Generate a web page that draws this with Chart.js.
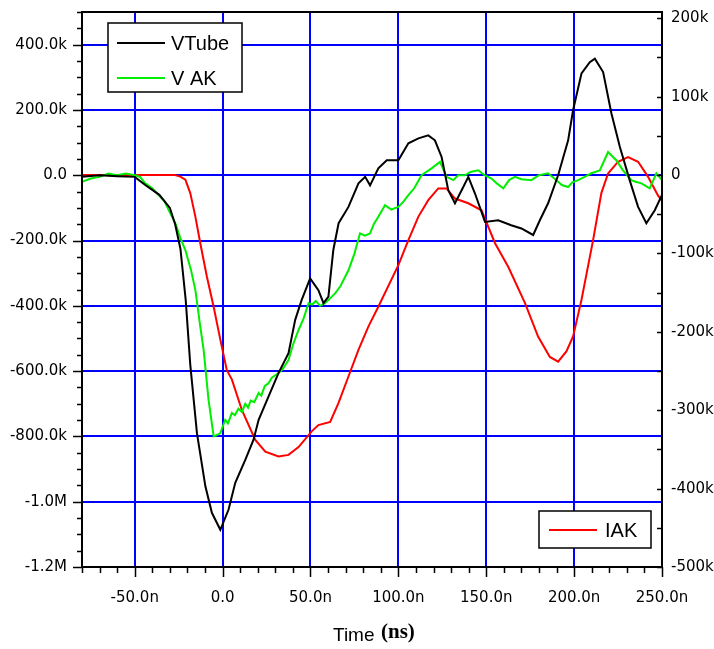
<!DOCTYPE html>
<html>
<head>
<meta charset="utf-8">
<script src="https://cdn.jsdelivr.net/npm/chart.js@4/dist/chart.umd.min.js"></script>
<style>
  html, body { margin: 0; padding: 0; background: #fff; }
  canvas { display: block; }
</style>
</head>
<body>
<canvas id="scope" width="714" height="649"></canvas>
<script>
// ---- data (time in ns, values in k) ----
const vtubeTime = [-80, -70, -60, -50, -44, -36, -30, -27, -24, -21, -18.4, -14.6, -9.8, -6.1, -1.3, 3.4, 7.2, 12.9, 17.6, 20.5, 26.1, 31.8, 37.5, 41.3, 45, 49.8, 54.5, 57.4, 60.2, 63, 66, 71.6, 77.3, 81.1, 83.9, 88.6, 93.4, 100, 105.7, 111.4, 117, 120.8, 124.6, 128.4, 132.2, 136, 139.8, 143.6, 149.3, 156.8, 164.2, 170, 176.7, 180.5, 185.2, 190.9, 196.6, 199.4, 204.2, 208.9, 211.8, 216.5, 221.2, 226, 231.6, 236.4, 241.1, 245.9, 250];
const vtubeVals = [-5, 0, -3, -5, -30, -60, -100, -150, -225, -382, -580, -790, -953, -1034, -1086, -1024, -942, -872, -810, -749, -678, -606, -545, -443, -382, -316, -352, -392, -372, -229, -147, -97, -25, -5, -31, 21, 46, 46, 98, 113, 122, 107, 56, -46, -86, -46, -5, -56, -143, -138, -153, -163, -183, -138, -86, 0, 107, 199, 312, 346, 357, 316, 190, 87, -15, -97, -147, -107, -60];

const vakTime = [-80, -75, -70, -65, -60, -55, -50, -47, -44, -40, -36.4, -33, -30.7, -26.9, -24, -21.2, -18, -15.5, -12.7, -10.8, -8, -5.1, -3, -1.3, 1.5, 3, 5.3, 7, 9, 11, 12.9, 14.5, 16, 18, 20.5, 22, 24, 26.1, 28, 31.8, 34, 37.5, 40, 43.2, 46, 48.9, 51, 53, 55.5, 58.3, 61, 64, 67, 71.6, 75, 78.2, 81, 83.9, 86, 88.6, 92.4, 96, 100, 103, 105.7, 109, 113.2, 118.9, 123.7, 127.4, 131.3, 134, 137.9, 141, 145.5, 149, 153, 156, 159.7, 163, 166.3, 170, 175.7, 180, 185.2, 190.9, 193, 196.6, 199, 202.3, 206, 209.8, 214.6, 219.3, 224, 227.8, 232.6, 235, 238.3, 243, 246.8, 250];
const vakVals = [-20, -10, -5, 5, 0, 5, 0, -5, -25, -40, -61, -80, -107, -147, -193, -229, -290, -352, -464, -535, -688, -800, -795, -790, -749, -760, -728, -735, -715, -725, -700, -712, -690, -695, -667, -675, -645, -637, -620, -606, -595, -566, -520, -474, -440, -392, -396, -385, -400, -392, -378, -362, -340, -291, -240, -178, -185, -178, -150, -127, -92, -105, -97, -80, -61, -40, 0, 21, 41, -5, -15, 0, 0, 10, 15, 0, -10, -25, -40, -15, -5, -12, -15, 0, 6, -20, -30, -36, -22, -15, -5, 6, 15, 71, 46, 15, -15, -20, -25, -40, 6, -15];

const iakTime = [-80, -27, -24, -21.2, -18.4, -15.5, -12.7, -8.9, -5.1, -1.3, 2.4, 5.3, 11, 18.6, 24.3, 31.8, 37.5, 43.2, 50.7, 54.5, 61.2, 65.9, 71.6, 77.3, 83, 88.6, 100, 105.7, 111.4, 117, 122.7, 127.4, 132.2, 139.8, 147.3, 155, 162.5, 172, 179.5, 186.2, 190.9, 195.6, 199.4, 204.2, 210.8, 215.5, 219.3, 225, 230.7, 236.4, 242, 247.7, 250];
const iakVals = [0, 0, -2, -6, -23, -53, -87, -130, -168, -210, -249, -261, -300, -338, -353, -359, -357, -347, -327, -319, -315, -291, -257, -223, -193, -168, -115, -83, -53, -32, -17, -17, -30, -36, -45, -87, -117, -163, -206, -232, -238, -225, -206, -159, -83, -23, 2, 17, 23, 17, -2, -26, -33];

const legendTop = ['VTube', 'V AK'];
const legendBottom = ['IAK'];

const BLUE = '#0000ff';

function pts(ts, vs) {
    return ts.map((t, i) => ({ x: t, y: vs[i] }));
}

function leftLabel(v) {
    if (v === 0) return '0.0';
    if (Math.abs(v) >= 1000) return (v / 1000).toFixed(1) + 'M';
    return v.toFixed(1) + 'k';
}

// no extra room for edge labels, the frame is fixed
function noPad(s) {
    s.paddingTop = 0;
    s.paddingBottom = 0;
    s.paddingLeft = 0;
    s.paddingRight = 0;
}

// frame, tick marks, legends and axis title
const decorPlugin = {
    id: 'decor',
    afterDraw(chart) {
        const ctx = chart.ctx;
        const a = chart.chartArea;
        const xs = chart.scales.x, yl = chart.scales.y, yr = chart.scales.y2;
        ctx.save();
        ctx.strokeStyle = '#000';
        ctx.lineWidth = 1.5;
        ctx.beginPath();
        for (let v = -80; v <= 250; v += 10) {
            const px = Math.round(xs.getPixelForValue(v)) + 0.5;
            const len = v % 50 === 0 ? 10 : 6;
            ctx.moveTo(px, a.bottom);
            ctx.lineTo(px, a.bottom + len);
        }
        for (let v = -1200; v <= 500; v += 50) {
            const py = Math.round(yl.getPixelForValue(v)) + 0.5;
            const len = v % 200 === 0 ? 9 : 5;
            ctx.moveTo(a.left - len, py);
            ctx.lineTo(a.left, py);
        }
        for (let v = -500; v <= 200; v += 50) {
            const py = Math.round(yr.getPixelForValue(v)) + 0.5;
            ctx.moveTo(a.right - 5, py);
            ctx.lineTo(a.right, py);
        }
        ctx.stroke();

        ctx.lineWidth = 2;
        ctx.strokeRect(a.left, a.top, a.right - a.left, a.bottom - a.top);

        // legend boxes
        const ds = chart.data.datasets;
        ctx.font = '20px "Liberation Sans", Arial, sans-serif';
        ctx.textBaseline = 'middle';
        ctx.fillStyle = '#fff';
        ctx.fillRect(108, 23, 134, 69);
        ctx.lineWidth = 1.5;
        ctx.strokeStyle = '#000';
        ctx.strokeRect(108, 23, 134, 69);
        legendTop.forEach((txt, i) => {
            const y = 43 + i * 35;
            ctx.strokeStyle = ds[i].borderColor;
            ctx.lineWidth = 2;
            ctx.beginPath();
            ctx.moveTo(117, y);
            ctx.lineTo(165, y);
            ctx.stroke();
            ctx.fillStyle = '#000';
            ctx.fillText(txt, 171, y + 1);
        });
        ctx.fillStyle = '#fff';
        ctx.fillRect(539, 511, 112, 37);
        ctx.strokeStyle = '#000';
        ctx.lineWidth = 1.5;
        ctx.strokeRect(539, 511, 112, 37);
        ctx.strokeStyle = ds[2].borderColor;
        ctx.lineWidth = 2;
        ctx.beginPath();
        ctx.moveTo(549, 530);
        ctx.lineTo(597, 530);
        ctx.stroke();
        ctx.fillStyle = '#000';
        ctx.fillText(legendBottom[0], 605, 531);

        // axis title
        ctx.textBaseline = 'alphabetic';
        ctx.font = '19px "Liberation Sans", Arial, sans-serif';
        ctx.fillText('Time', 333, 641);
        ctx.font = 'bold 21px "Liberation Serif", "Times New Roman", serif';
        ctx.fillText('(ns)', 381, 638);
        ctx.restore();
    }
};

const tickFont = { family: '"DejaVu Sans", sans-serif', size: 15 };

new Chart(document.getElementById('scope'), {
    type: 'scatter',
    data: {
        datasets: [
            { label: 'VTube', data: pts(vtubeTime, vtubeVals), yAxisID: 'y', borderColor: '#000000', borderWidth: 2, showLine: true, pointRadius: 0, tension: 0 },
            { label: 'V AK', data: pts(vakTime, vakVals), yAxisID: 'y', borderColor: '#00ee00', borderWidth: 2, showLine: true, pointRadius: 0, tension: 0 },
            { label: 'IAK', data: pts(iakTime, iakVals), yAxisID: 'y2', borderColor: '#ff0000', borderWidth: 2, showLine: true, pointRadius: 0, tension: 0 }
        ]
    },
    options: {
        responsive: false,
        animation: false,
        devicePixelRatio: 1,
        layout: { padding: { top: 12, left: 0, right: 0, bottom: 0 } },
        plugins: { legend: { display: false }, tooltip: { enabled: false } },
        scales: {
            x: {
                type: 'linear',
                min: -80,
                max: 250,
                afterFit: s => { s.height = 82; noPad(s); },
                border: { display: false },
                grid: {
                    drawTicks: false,
                    lineWidth: 2,
                    color: c => (c.tick && c.tick.value % 50 === 0 && c.tick.value > -80 && c.tick.value < 250) ? BLUE : 'rgba(0,0,0,0)'
                },
                ticks: {
                    stepSize: 10,
                    autoSkip: false,
                    maxRotation: 0,
                    padding: 22,
                    color: '#000',
                    font: tickFont,
                    callback: v => v % 50 !== 0 ? '' : (v === 0 ? '0.0' : v.toFixed(1) + 'n')
                }
            },
            y: {
                position: 'left',
                min: -1200,
                max: 500,
                afterFit: s => { s.width = 82; noPad(s); },
                border: { display: false },
                grid: {
                    drawTicks: false,
                    lineWidth: 2,
                    color: c => (c.tick && c.tick.value % 200 === 0 && c.tick.value > -1200) ? BLUE : 'rgba(0,0,0,0)'
                },
                ticks: {
                    stepSize: 50,
                    autoSkip: false,
                    padding: 15,
                    color: '#000',
                    font: tickFont,
                    callback: v => v % 200 !== 0 ? '' : leftLabel(v)
                }
            },
            y2: {
                position: 'right',
                min: -500,
                max: 208,
                afterFit: s => { s.width = 52; noPad(s); },
                border: { display: false },
                grid: { display: false, drawTicks: false },
                ticks: {
                    stepSize: 50,
                    includeBounds: false,
                    autoSkip: false,
                    padding: 9,
                    color: '#000',
                    font: tickFont,
                    callback: v => v % 100 !== 0 ? '' : (v === 0 ? '0' : v + 'k')
                }
            }
        }
    },
    plugins: [decorPlugin]
});
</script>
</body>
</html>
